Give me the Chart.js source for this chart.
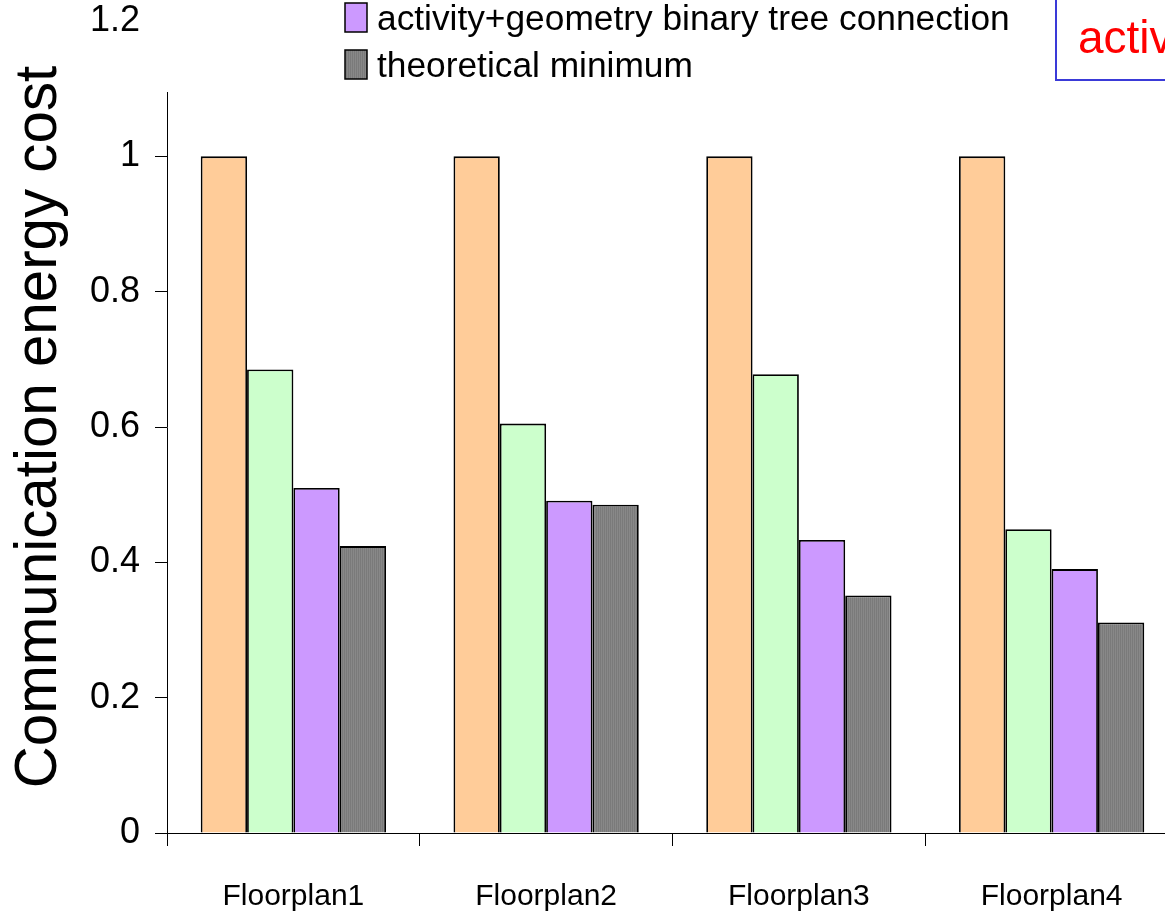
<!DOCTYPE html>
<html><head><meta charset="utf-8">
<script src="https://cdn.jsdelivr.net/npm/chart.js@4/dist/chart.umd.min.js"></script>
<style>html,body{margin:0;padding:0;background:#fff;overflow:hidden;width:1165px;height:911px}canvas{display:block}</style>
</head><body><canvas id="c" width="1180" height="911"></canvas>
<script>
const categories = ['Floorplan1', 'Floorplan2', 'Floorplan3', 'Floorplan4'];
const seriesNames = ['direct connection', 'geometry binary tree connection', 'activity+geometry binary tree connection', 'theoretical minimum'];
const directConn = [1, 1, 1, 1];
const geometryTree = [0.685, 0.605, 0.678, 0.449];
const activityGeometryTree = [0.510, 0.491, 0.433, 0.390];
const theoreticalMin = [0.424, 0.485, 0.351, 0.311];
const yTicks = [0, 0.2, 0.4, 0.6, 0.8, 1, 1.2];
const yTitle = 'Communication energy cost';
const noteText = 'activ';

const FONT = '"Liberation Sans", Arial, sans-serif';

function grayPattern() {
  const pc = document.createElement('canvas');
  pc.width = 2; pc.height = 1;
  const p = pc.getContext('2d');
  p.fillStyle = '#7a7a7a'; p.fillRect(0, 0, 1, 1);
  p.fillStyle = '#888888'; p.fillRect(1, 0, 1, 1);
  return document.getElementById('c').getContext('2d').createPattern(pc, 'repeat');
}
const grayFill = grayPattern();

const overlay = {
  id: 'overlay',
  afterDraw(chart) {
    const ctx = chart.ctx;
    ctx.save();
    ctx.fillStyle = '#fff';
    ctx.fillRect(150, 0, 890, 92);
    const ds = chart.data.datasets;
    ctx.font = '35.3px ' + FONT;
    ctx.textBaseline = 'alphabetic';
    ds.forEach((d, i) => {
      const k = i - (ds.length - 2);
      const base = 30 + 47 * k;
      const top = base - 27;
      ctx.fillStyle = d.backgroundColor;
      ctx.fillRect(345, top, 22, 29);
      ctx.strokeStyle = '#000'; ctx.lineWidth = 1.5;
      ctx.strokeRect(345, top, 22, 29);
      ctx.fillStyle = '#000';
      ctx.fillText(d.label, 377, base);
    });
    ctx.strokeStyle = '#3a3ad8'; ctx.lineWidth = 2;
    ctx.strokeRect(1056, -10, 200, 90);
    ctx.fillStyle = '#ff0000';
    ctx.font = '46px ' + FONT;
    ctx.fillText(noteText, 1078, 53);
    ctx.restore();
  }
};

const colors = ['#ffcc99', '#ccffcc', '#cc99ff', grayFill];
const values = [directConn, geometryTree, activityGeometryTree, theoreticalMin];

new Chart(document.getElementById('c'), {
  type: 'bar',
  data: {
    labels: categories,
    datasets: values.map((v, i) => ({
      label: seriesNames[i],
      data: v,
      backgroundColor: colors[i],
      borderColor: '#000',
      borderWidth: 1.8,
      categoryPercentage: 0.733,
      barPercentage: 1.0
    }))
  },
  options: {
    responsive: false,
    animation: false,
    layout: { padding: { top: 0, right: 2, left: 0, bottom: 0 } },
    plugins: { legend: { display: false }, tooltip: { enabled: false } },
    scales: {
      x: {
        grid: { offset: true, drawOnChartArea: false, drawTicks: true, tickLength: 13, color: '#000' },
        border: { color: '#000', width: 1 },
        ticks: { color: '#000', font: { size: 30, family: FONT }, padding: 33, maxRotation: 0 },
        afterFit(s) { s.height = 78; }
      },
      y: {
        min: 0, max: 1.2,
        afterBuildTicks(s) { s.ticks = yTicks.map(v => ({ value: v })); },
        ticks: { color: '#000', font: { size: 36, family: FONT }, padding: 15,
                 callback: v => String(Number(v.toFixed(2))) },
        grid: { drawOnChartArea: false, drawTicks: true, tickLength: 12, color: '#000' },
        border: { color: '#000', width: 1 },
        title: { display: true, text: yTitle, color: '#000', font: { size: 58.3, family: FONT }, padding: { top: 5, bottom: 0 } },
        afterFit(s) { s.width = 167; s.paddingTop = 21; }
      }
    }
  },
  plugins: [overlay]
});
</script>
</body></html>
